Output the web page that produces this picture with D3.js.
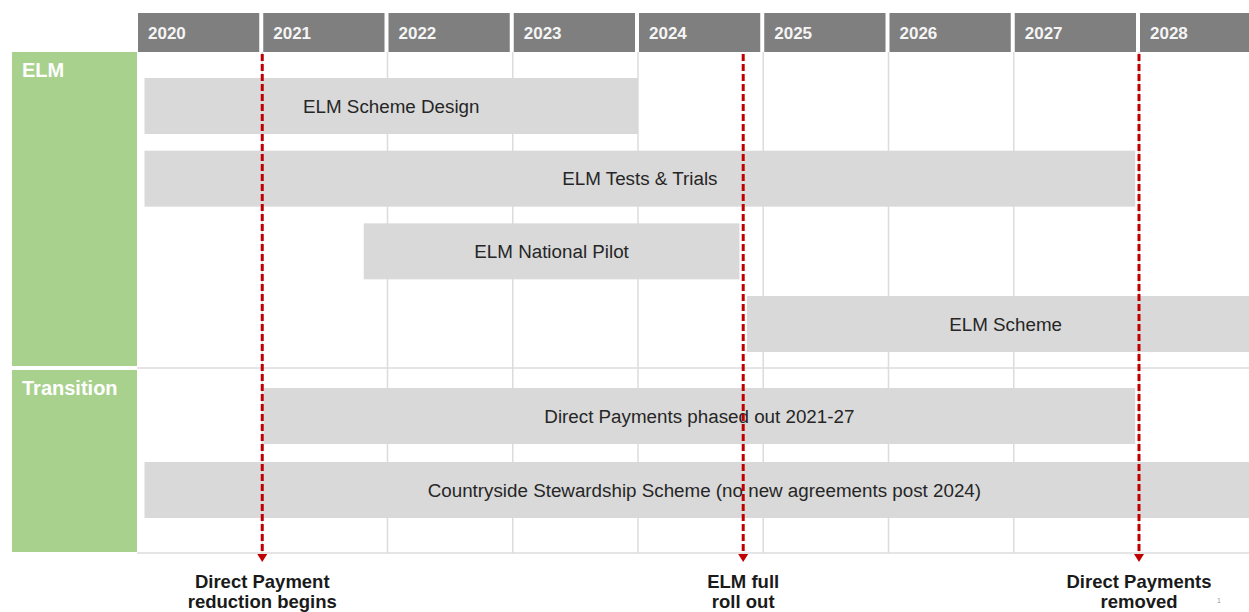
<!DOCTYPE html>
<html>
<head>
<meta charset="utf-8">
<script src="https://cdn.jsdelivr.net/npm/d3@7"></script>
<style>
  html, body { margin: 0; padding: 0; background: #ffffff; }
  svg { display: block; font-family: "Liberation Sans", Arial, sans-serif; }
</style>
</head>
<body>
<svg id="chart" width="1249" height="612"></svg>
<script>
// ---- Data ----
const years = [2020, 2021, 2022, 2023, 2024, 2025, 2026, 2027, 2028];
const sections = ["ELM", "Transition"];
const tasks = [
  "ELM Scheme Design",
  "ELM Tests & Trials",
  "ELM National Pilot",
  "ELM Scheme",
  "Direct Payments phased out 2021-27",
  "Countryside Stewardship Scheme (no new agreements post 2024)"
];
const taskSection = ["ELM", "ELM", "ELM", "ELM", "Transition", "Transition"];
const taskStart = [2020.06, 2020.06, 2021.81, 2024.87, 2021.01, 2020.06];
const taskEnd   = [2024.0, 2027.97, 2024.81, 2029.0, 2027.97, 2029.0];
const milestoneYears = [2021.0, 2024.84, 2028.0];
const milestoneLabels = [
  ["Direct Payment", "reduction begins"],
  ["ELM full", "roll out"],
  ["Direct Payments", "removed"]
];

// ---- Layout ----
const W = 1249, H = 612;
const svg = d3.select("#chart");
const x = d3.scaleLinear().domain([2020, 2028]).range([137, 1139]);
const headerTop = 13, headerBottom = 52;
const bodyBottom = 553;
const sectionLayout = {
  "ELM":        { top: 52,  bottom: 366, firstBar: 78,  pitch: 72.67 },
  "Transition": { top: 370, bottom: 552, firstBar: 388, pitch: 74 }
};
const barH = 56;
const colors = {
  header: "#7f7f7f", headerText: "#f5f5f5", bar: "#d9d9d9", barText: "#262626",
  green: "#a9d18e", grid: "#dcdcdc", red: "#c00000", text: "#1a1a1a"
};

// row index inside each section
const rowIndex = {};
sections.forEach(s => {
  let i = 0;
  tasks.forEach((t, k) => { if (taskSection[k] === s) rowIndex[t] = i++; });
});
const barTop = t => {
  const k = tasks.indexOf(t);
  const L = sectionLayout[taskSection[k]];
  return d3.scaleLinear().domain([0, 1]).range([L.firstBar, L.firstBar + L.pitch])(rowIndex[t]);
};

// ---- Grid ----
const grid = svg.append("g");
grid.selectAll("line.v").data(years.slice(1)).join("line")
  .attr("x1", d => x(d)).attr("x2", d => x(d))
  .attr("y1", headerBottom).attr("y2", bodyBottom)
  .attr("stroke", colors.grid).attr("stroke-width", 1.5);
grid.selectAll("line.h").data([368, bodyBottom]).join("line")
  .attr("x1", x(2020)).attr("x2", W)
  .attr("y1", d => d).attr("y2", d => d)
  .attr("stroke", colors.grid).attr("stroke-width", 1.5);

// ---- Section blocks ----
const sec = svg.append("g").selectAll("g").data(sections).join("g");
sec.append("rect")
  .attr("x", 12).attr("width", x(2020) - 12)
  .attr("y", d => sectionLayout[d].top)
  .attr("height", d => sectionLayout[d].bottom - sectionLayout[d].top)
  .attr("fill", colors.green);
sec.append("text")
  .attr("x", 22).attr("y", d => sectionLayout[d].top + 25)
  .attr("fill", "#ffffff").attr("font-weight", "bold").attr("font-size", 20)
  .text(d => d);

// ---- Header ----
const hdr = svg.append("g").selectAll("g").data(years).join("g");
hdr.append("rect")
  .attr("x", d => x(d) + 1).attr("y", headerTop)
  .attr("width", d => x(d + 1) - x(d) - 4).attr("height", headerBottom - headerTop)
  .attr("fill", colors.header);
hdr.append("text")
  .attr("x", d => x(d) + 11).attr("y", 39)
  .attr("fill", colors.headerText).attr("font-weight", "bold").attr("font-size", 17)
  .text(d => d);

// ---- Bars ----
const bars = svg.append("g").selectAll("g").data(tasks).join("g");
bars.append("rect")
  .attr("x", (d, i) => x(taskStart[i]))
  .attr("width", (d, i) => x(taskEnd[i]) - x(taskStart[i]))
  .attr("y", d => barTop(d)).attr("height", barH)
  .attr("fill", colors.bar);
bars.append("text")
  .attr("x", (d, i) => (x(taskStart[i]) + x(taskEnd[i])) / 2)
  .attr("y", d => barTop(d) + barH / 2 + 6.5)
  .attr("text-anchor", "middle")
  .attr("fill", colors.barText).attr("font-size", 18.8)
  .text(d => d);

// ---- Milestones ----
const ms = svg.append("g").selectAll("g").data(milestoneYears).join("g");
ms.append("line")
  .attr("x1", d => x(d)).attr("x2", d => x(d))
  .attr("y1", headerBottom + 2).attr("y2", 555)
  .attr("stroke", colors.red).attr("stroke-width", 3)
  .attr("stroke-dasharray", "7,3");
ms.append("path")
  .attr("d", d => `M${x(d) - 5},554 L${x(d) + 5},554 L${x(d)},562 Z`)
  .attr("fill", colors.red);
ms.each(function(d, i) {
  const g = d3.select(this);
  milestoneLabels[i].forEach((line, j) => {
    g.append("text")
      .attr("x", x(d)).attr("y", 588 + j * 20)
      .attr("text-anchor", "middle")
      .attr("font-weight", "bold").attr("font-size", 18.5)
      .attr("fill", colors.text)
      .text(line);
  });
});

// slide number artifact (kept clear of the milestone label)
svg.append("text").attr("x", 1217).attr("y", 603)
  .attr("font-size", 7).attr("fill", "#9a9a9a").text("1");
</script>
</body>
</html>
